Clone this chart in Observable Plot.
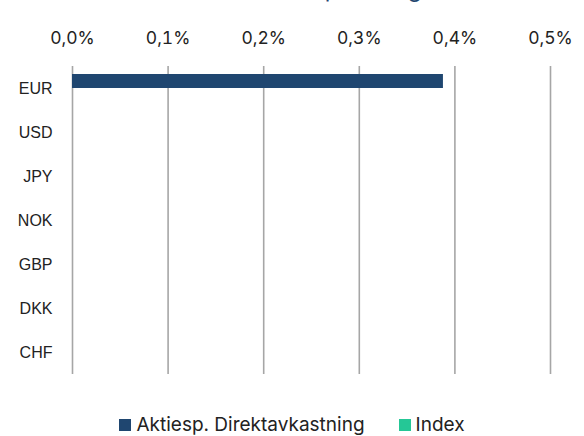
<!DOCTYPE html>
<html>
<head>
<meta charset="utf-8">
<script src="https://cdn.jsdelivr.net/npm/d3@7"></script>
<script src="https://cdn.jsdelivr.net/npm/@observablehq/plot@0.6"></script>
<style>
  body { margin: 0; background: #fff; width: 584px; position: relative; overflow: hidden; }
  #title { position: absolute; left: 232px; top: -26.5px; font-family: Inter, sans-serif; font-size: 23px; line-height: 30px; color: #1f4670; white-space: nowrap; }
  #legend { display: flex; justify-content: center; margin-top: 13px; }
  #legend [class$="-swatch"] { margin-right: 34px; }
  #legend [class$="-swatch"]:last-child { margin-right: 0; }
  #legend svg { margin-right: 5px !important; }
</style>
</head>
<body>
<div id="title">Valutaexponering</div>
<div id="chart"></div>
<div id="legend"></div>
<script>
const currencies = ["EUR", "USD", "JPY", "NOK", "GBP", "DKK", "CHF"];
const series = ["Aktiesp. Direktavkastning", "Index"];
const colors = ["#1f4670", "#25c796"];
const direktavkastning = [0.388, 0, 0, 0, 0, 0, 0];
const indexValues = [0, 0, 0, 0, 0, 0, 0];
const xTicks = [0, 0.1, 0.2, 0.3, 0.4, 0.5];

const rows = [];
currencies.forEach((c, i) => {
  rows.push({currency: c, series: series[0], value: direktavkastning[i]});
  rows.push({currency: c, series: series[1], value: indexValues[i]});
});

const fmt = d => d.toFixed(1).replace(".", ",") + "%";

const chart = Plot.plot({
  width: 584,
  height: 400,
  marginTop: 63,
  marginBottom: 23,
  marginLeft: 72,
  marginRight: 34,
  x: {domain: [0, 0.5]},
  y: {domain: series, paddingInner: 0, paddingOuter: 0.55, axis: null},
  fy: {domain: currencies, padding: 0, axis: null},
  color: {domain: series, range: colors},
  marks: [
    Plot.ruleX(xTicks, {stroke: "#a6a6a6", strokeWidth: 1.6}),
    Plot.barX(rows, {fy: "currency", y: "series", x: "value", fill: "series"}),
    Plot.axisX(xTicks, {anchor: "top", tickSize: 0, tickPadding: 23, tickFormat: fmt, label: null,
      fontSize: 17.5, fontFamily: "Inter, sans-serif", fill: "#222"}),
    Plot.axisFy({anchor: "left", tickSize: 0, tickPadding: 20, label: null,
      fontSize: 16, fontFamily: "'Liberation Sans', Arial, sans-serif", fill: "#222"})
  ]
});
document.getElementById("chart").appendChild(chart);

const leg = Plot.legend({color: {domain: series, range: colors}, swatchSize: 12});
leg.style.fontFamily = "Inter, sans-serif";
leg.style.fontSize = "19px";
leg.style.color = "#222";
leg.style.minHeight = "0";
leg.style.marginLeft = "0";
document.getElementById("legend").appendChild(leg);
</script>
</body>
</html>
